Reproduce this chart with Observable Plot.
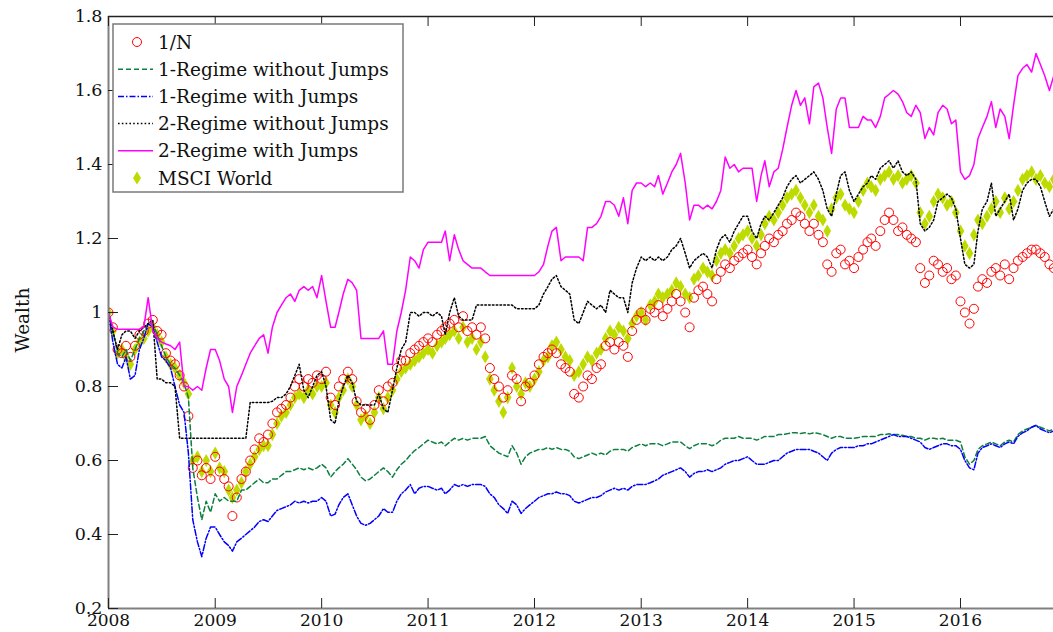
<!DOCTYPE html>
<html>
<head>
<meta charset="utf-8">
<script src="https://cdn.jsdelivr.net/npm/d3@7"></script>
<script src="https://cdn.jsdelivr.net/npm/@observablehq/plot@0.6"></script>
<style>
  html, body { margin: 0; padding: 0; background: #fff; }
  #chart { position: relative; width: 1053px; height: 632px; overflow: hidden; }
</style>
</head>
<body>
<div id="chart"></div>
<script>
// Wealth paths, sampled twice a month (1st and 16th) from Jan 2008 to mid-Nov 2016.
const equalWeight = [
  1.00,0.96,0.90,0.89,0.91,0.88,0.91,0.94,0.95,0.97,0.98,0.95,0.94,0.89,0.87,0.86,0.83,0.80,0.72,0.58,0.60,0.56,0.58,0.55, // 2008
  0.61,0.57,0.55,0.53,0.45,0.50,0.55,0.57,0.60,0.63,0.66,0.65,0.67,0.70,0.73,0.74,0.75,0.77,0.80,0.82,0.80,0.82,0.81,0.83, // 2009
  0.82,0.84,0.77,0.75,0.80,0.82,0.84,0.82,0.76,0.73,0.74,0.71,0.75,0.79,0.76,0.80,0.81,0.85,0.87,0.87,0.89,0.90,0.91,0.92, // 2010
  0.93,0.92,0.94,0.95,0.96,0.97,0.98,0.96,0.99,0.95,0.96,0.94,0.96,0.93,0.85,0.82,0.80,0.77,0.79,0.83,0.82,0.76,0.80,0.81, // 2011
  0.83,0.86,0.88,0.89,0.90,0.89,0.86,0.85,0.84,0.78,0.77,0.80,0.83,0.82,0.85,0.86,0.91,0.92,0.90,0.92,0.91,0.88,0.95,0.98, // 2012
  1.00,0.98,1.01,1.00,1.02,0.99,1.01,1.03,1.05,1.03,1.00,0.96,1.04,1.06,1.07,1.05,1.03,1.09,1.11,1.13,1.12,1.14,1.15,1.16, // 2013
  1.17,1.15,1.13,1.16,1.18,1.20,1.19,1.21,1.22,1.24,1.25,1.27,1.26,1.24,1.22,1.24,1.21,1.19,1.13,1.11,1.16,1.17,1.13,1.14, // 2014
  1.12,1.15,1.17,1.19,1.20,1.18,1.22,1.25,1.27,1.25,1.22,1.23,1.21,1.20,1.19,1.12,1.08,1.10,1.14,1.13,1.11,1.12,1.09,1.10, // 2015
  1.03,1.00,0.97,1.01,1.07,1.09,1.08,1.11,1.12,1.10,1.13,1.09,1.12,1.14,1.15,1.16,1.17,1.17,1.16,1.15,1.13,1.12            // 2016
];
const oneRegimeNoJumps = [
  1.00,0.95,0.89,0.88,0.90,0.87,0.90,0.93,0.95,0.97,0.97,0.94,0.91,0.88,0.86,0.85,0.83,0.81,0.77,0.58,0.50,0.44,0.49,0.46,
  0.51,0.49,0.50,0.49,0.49,0.49,0.52,0.52,0.53,0.54,0.55,0.54,0.54,0.55,0.55,0.56,0.57,0.57,0.575,0.58,0.575,0.58,0.575,0.58,
  0.59,0.58,0.555,0.57,0.58,0.59,0.605,0.59,0.575,0.555,0.545,0.55,0.56,0.57,0.58,0.57,0.555,0.575,0.59,0.60,0.615,0.627,0.635,0.645,
  0.655,0.65,0.645,0.65,0.64,0.65,0.66,0.655,0.66,0.655,0.66,0.66,0.66,0.665,0.64,0.63,0.62,0.615,0.61,0.64,0.62,0.59,0.61,0.62,
  0.625,0.63,0.63,0.635,0.63,0.635,0.63,0.63,0.625,0.61,0.605,0.61,0.615,0.62,0.615,0.62,0.615,0.625,0.63,0.63,0.63,0.625,0.635,0.64,
  0.645,0.64,0.645,0.645,0.645,0.64,0.645,0.65,0.65,0.65,0.64,0.632,0.64,0.645,0.645,0.645,0.64,0.645,0.655,0.66,0.66,0.66,0.665,0.66,
  0.66,0.66,0.655,0.66,0.665,0.665,0.665,0.67,0.67,0.672,0.675,0.675,0.673,0.675,0.672,0.675,0.673,0.67,0.665,0.66,0.665,0.665,0.66,0.66,
  0.66,0.662,0.665,0.665,0.665,0.665,0.67,0.67,0.672,0.67,0.67,0.668,0.665,0.665,0.66,0.66,0.655,0.66,0.66,0.658,0.66,0.655,0.655,0.655,
  0.65,0.61,0.59,0.60,0.63,0.64,0.645,0.65,0.645,0.64,0.65,0.655,0.65,0.67,0.68,0.685,0.69,0.695,0.69,0.685,0.68,0.685
];
const oneRegimeJumps = [
  1.00,0.92,0.86,0.85,0.88,0.82,0.83,0.90,0.93,0.97,0.96,0.92,0.88,0.87,0.85,0.80,0.75,0.73,0.62,0.44,0.38,0.34,0.39,0.42,
  0.42,0.40,0.38,0.37,0.355,0.38,0.39,0.40,0.41,0.42,0.435,0.44,0.435,0.45,0.465,0.47,0.475,0.48,0.49,0.485,0.49,0.485,0.49,0.49,
  0.50,0.49,0.45,0.455,0.48,0.50,0.51,0.48,0.45,0.43,0.425,0.43,0.44,0.45,0.47,0.46,0.46,0.49,0.51,0.52,0.535,0.51,0.525,0.53,
  0.53,0.525,0.52,0.525,0.51,0.52,0.535,0.53,0.535,0.53,0.535,0.535,0.535,0.53,0.51,0.50,0.48,0.47,0.457,0.49,0.48,0.457,0.47,0.48,
  0.49,0.50,0.505,0.51,0.51,0.515,0.51,0.51,0.505,0.49,0.485,0.49,0.495,0.50,0.50,0.505,0.515,0.52,0.525,0.52,0.525,0.52,0.53,0.535,
  0.535,0.535,0.54,0.545,0.55,0.56,0.565,0.57,0.575,0.58,0.57,0.555,0.565,0.57,0.57,0.575,0.57,0.575,0.58,0.59,0.595,0.60,0.60,0.605,
  0.61,0.60,0.59,0.59,0.59,0.595,0.60,0.60,0.61,0.62,0.625,0.63,0.63,0.63,0.63,0.625,0.62,0.61,0.60,0.62,0.63,0.635,0.635,0.635,
  0.635,0.64,0.64,0.645,0.645,0.65,0.655,0.66,0.665,0.67,0.665,0.665,0.665,0.66,0.655,0.65,0.635,0.63,0.635,0.64,0.645,0.645,0.64,0.64,
  0.63,0.60,0.58,0.575,0.62,0.635,0.64,0.645,0.64,0.635,0.645,0.65,0.645,0.665,0.675,0.68,0.69,0.695,0.685,0.68,0.675,0.68
];
const twoRegimeNoJumps = [
  1.00,0.95,0.90,0.94,0.95,0.95,0.93,0.95,0.96,0.97,0.98,0.82,0.82,0.81,0.81,0.80,0.66,0.66,0.66,0.66,0.66,0.66,0.66,0.66,
  0.66,0.66,0.66,0.66,0.66,0.66,0.66,0.66,0.757,0.757,0.757,0.757,0.757,0.76,0.77,0.77,0.78,0.80,0.83,0.86,0.79,0.77,0.80,0.83,
  0.84,0.80,0.71,0.70,0.76,0.80,0.83,0.81,0.76,0.75,0.75,0.75,0.75,0.78,0.74,0.73,0.79,0.85,0.90,0.92,1.00,1.00,0.99,1.00,
  1.00,0.99,1.00,0.99,0.94,1.00,1.04,0.99,0.98,0.98,0.98,1.02,1.02,1.02,1.02,1.02,1.02,1.02,1.02,1.02,1.01,1.01,1.01,1.01,
  1.01,1.02,1.05,1.07,1.09,1.10,1.07,1.06,1.05,0.98,0.97,1.00,1.03,1.02,1.01,1.02,1.00,1.06,1.05,1.04,1.04,1.00,1.08,1.12,
  1.15,1.14,1.15,1.14,1.15,1.14,1.15,1.17,1.18,1.20,1.16,1.12,1.14,1.15,1.16,1.15,1.12,1.17,1.20,1.21,1.19,1.22,1.24,1.26,
  1.26,1.22,1.20,1.24,1.26,1.25,1.27,1.29,1.31,1.34,1.36,1.37,1.35,1.36,1.37,1.38,1.36,1.33,1.28,1.26,1.32,1.37,1.38,1.33,
  1.30,1.32,1.34,1.35,1.37,1.36,1.39,1.40,1.41,1.39,1.41,1.38,1.37,1.38,1.36,1.24,1.22,1.23,1.25,1.30,1.31,1.32,1.31,1.28,
  1.20,1.13,1.12,1.13,1.22,1.28,1.30,1.35,1.26,1.28,1.30,1.32,1.25,1.28,1.33,1.35,1.36,1.36,1.34,1.30,1.26,1.28
];
const twoRegimeJumps = [
  1.00,0.96,0.955,0.955,0.955,0.955,0.955,0.955,0.96,1.04,0.95,0.93,0.92,0.915,0.91,0.90,0.92,0.80,0.80,0.79,0.80,0.79,0.85,0.90,
  0.90,0.87,0.82,0.80,0.73,0.80,0.83,0.86,0.89,0.91,0.93,0.94,0.89,0.96,1.00,1.02,1.04,1.05,1.03,1.06,1.07,1.06,1.07,1.04,
  1.10,1.03,0.96,0.96,1.00,1.05,1.09,1.08,1.06,0.93,0.93,0.93,0.93,0.93,0.95,0.86,0.86,0.95,1.00,1.06,1.15,1.14,1.12,1.17,
  1.19,1.19,1.19,1.19,1.22,1.14,1.21,1.17,1.14,1.13,1.12,1.12,1.12,1.11,1.10,1.10,1.10,1.10,1.10,1.10,1.10,1.10,1.10,1.10,
  1.10,1.11,1.13,1.18,1.22,1.23,1.14,1.15,1.15,1.15,1.15,1.14,1.23,1.23,1.24,1.26,1.30,1.30,1.29,1.26,1.31,1.24,1.33,1.35,
  1.35,1.34,1.35,1.34,1.37,1.32,1.35,1.38,1.40,1.43,1.35,1.25,1.29,1.29,1.28,1.29,1.28,1.30,1.33,1.42,1.39,1.40,1.38,1.39,
  1.39,1.39,1.30,1.37,1.41,1.34,1.38,1.39,1.44,1.50,1.56,1.60,1.56,1.58,1.51,1.61,1.62,1.58,1.50,1.43,1.55,1.58,1.58,1.50,
  1.50,1.50,1.53,1.52,1.52,1.50,1.53,1.58,1.59,1.60,1.59,1.57,1.54,1.53,1.56,1.54,1.47,1.50,1.48,1.54,1.56,1.55,1.51,1.52,
  1.38,1.36,1.37,1.40,1.47,1.50,1.53,1.57,1.50,1.55,1.53,1.47,1.56,1.64,1.66,1.67,1.65,1.70,1.67,1.64,1.60,1.64
];
const msciWorld = [
  1.00,0.95,0.89,0.90,0.88,0.86,0.90,0.92,0.93,0.95,0.96,0.94,0.92,0.88,0.86,0.85,0.83,0.81,0.78,0.60,0.61,0.57,0.60,0.57,
  0.62,0.58,0.57,0.52,0.50,0.52,0.54,0.57,0.59,0.61,0.63,0.64,0.64,0.67,0.70,0.72,0.73,0.75,0.77,0.78,0.77,0.79,0.78,0.80,
  0.80,0.81,0.75,0.73,0.77,0.79,0.82,0.80,0.75,0.71,0.72,0.70,0.73,0.77,0.74,0.77,0.79,0.82,0.84,0.85,0.86,0.87,0.88,0.89,
  0.90,0.89,0.91,0.92,0.93,0.94,0.95,0.93,0.96,0.92,0.93,0.90,0.92,0.88,0.82,0.79,0.76,0.73,0.77,0.85,0.80,0.78,0.81,0.80,
  0.82,0.84,0.87,0.88,0.91,0.92,0.90,0.88,0.87,0.83,0.84,0.86,0.88,0.87,0.89,0.90,0.93,0.95,0.94,0.96,0.95,0.93,0.97,0.99,
  1.00,0.98,1.02,1.03,1.05,1.04,1.05,1.06,1.08,1.07,1.05,1.04,1.09,1.10,1.12,1.11,1.10,1.14,1.16,1.17,1.16,1.18,1.20,1.21,
  1.22,1.20,1.18,1.21,1.24,1.26,1.25,1.27,1.29,1.31,1.32,1.33,1.31,1.29,1.27,1.29,1.26,1.25,1.22,1.28,1.31,1.32,1.29,1.28,
  1.27,1.30,1.33,1.35,1.34,1.33,1.36,1.37,1.38,1.36,1.37,1.35,1.36,1.37,1.35,1.27,1.24,1.26,1.30,1.32,1.31,1.29,1.30,1.27,
  1.22,1.18,1.16,1.21,1.25,1.24,1.26,1.28,1.30,1.27,1.31,1.28,1.30,1.33,1.36,1.37,1.38,1.36,1.37,1.35,1.34,1.36
];

const xTickYears = [2008, 2009, 2010, 2011, 2012, 2013, 2014, 2015, 2016];
const yTickValues = [0.2, 0.4, 0.6, 0.8, 1.0, 1.2, 1.4, 1.6, 1.8];
const seriesNames = ["1/N", "1-Regime without Jumps", "1-Regime with Jumps",
                     "2-Regime without Jumps", "2-Regime with Jumps", "MSCI World"];
const yTitle = "Wealth";

// Observation dates: 1st and 16th of every month.
const dates = equalWeight.map((_, i) =>
  new Date(Date.UTC(2008 + Math.floor(i / 24), Math.floor((i % 24) / 2), i % 2 ? 16 : 1)));
const rows = dates.map((date, i) => ({
  date,
  equal: equalWeight[i],
  g1: oneRegimeNoJumps[i],
  b1: oneRegimeJumps[i],
  k2: twoRegimeNoJumps[i],
  m2: twoRegimeJumps[i],
  msci: msciWorld[i]
}));

const W = 1053, H = 632;
const M = {top: 16, right: 0, bottom: 24, left: 108};
const innerW = W - M.left - M.right, innerH = H - M.top - M.bottom;
const serif = "'DejaVu Serif', 'Liberation Serif', serif";
const tickLen = 10;
const xTicks = xTickYears.map(y => new Date(Date.UTC(y, 0, 1)));

const C = {
  red: "#ff0000", green: "#0d8040", blue: "#0000ff", black: "#000000",
  magenta: "#ff00ff", msci: "#bedb00"
};
const styles = [
  {key: "g1", color: C.green, dash: "5,3"},
  {key: "b1", color: C.blue, dash: "6,2,1.5,2"},
  {key: "k2", color: C.black, dash: "1.6,2.2"},
  {key: "m2", color: C.magenta, dash: null}
];

const chart = Plot.plot({
  width: W, height: H,
  marginTop: M.top, marginRight: M.right, marginBottom: M.bottom, marginLeft: M.left,
  style: {fontFamily: serif, fontSize: "17px", background: "#fff", color: "#111", overflow: "hidden"},
  x: {type: "utc", domain: [new Date(Date.UTC(2008, 0, 1)), new Date(Date.UTC(2016, 10, 15))]},
  y: {domain: [0.2, 1.8]},
  marks: [
    Plot.dot(rows, {x: "date", y: "msci", symbol: "diamond", r: 4, fill: C.msci, stroke: "none", clip: true}),
    Plot.dot(rows, {x: "date", y: "equal", r: 4.5, stroke: C.red, fill: "none", strokeWidth: 1, clip: true}),
    ...styles.map(s => Plot.line(rows, {
      x: "date", y: s.key, stroke: s.color, strokeWidth: 1.5,
      strokeDasharray: s.dash || undefined, clip: true
    })),
    // frame: grey left/bottom spines, dark top edge
    Plot.ruleY([1.8], {stroke: "#222", strokeWidth: 1.3}),
    Plot.ruleY([0.2], {stroke: "#808080", strokeWidth: 2}),
    Plot.ruleX([xTicks[0]], {stroke: "#808080", strokeWidth: 2}),
    // inward ticks
    Plot.ruleX(xTicks, {insetTop: innerH - tickLen, stroke: "#222"}),
    Plot.ruleX(xTicks, {insetBottom: innerH - tickLen, stroke: "#222"}),
    Plot.ruleY(yTickValues, {insetRight: innerW - tickLen, stroke: "#222"}),
    Plot.axisX({ticks: xTicks, tickSize: 0, tickPadding: 5, fontSize: 17,
                tickFormat: d => String(d.getUTCFullYear()), label: null, fill: "#111"}),
    Plot.axisY({ticks: yTickValues, tickSize: 0, tickPadding: 6, fontSize: 17.5,
                tickFormat: d => String(+d.toFixed(1)), label: null, fill: "#111"})
  ]
});
document.getElementById("chart").appendChild(chart);

const svg = d3.select(chart);

// Rotated y-axis title
svg.append("text")
  .attr("transform", `translate(29,${M.top + innerH / 2 + 8}) rotate(-90)`)
  .attr("text-anchor", "middle")
  .attr("font-family", serif).attr("font-size", "18.5px").attr("fill", "#111")
  .text(yTitle);

// Legend box in the upper-left corner of the plot area
const lg = svg.append("g").attr("transform", "translate(113,24)")
  .attr("text-anchor", "start");
lg.append("rect").attr("width", 290).attr("height", 168)
  .attr("fill", "#fff").attr("stroke", "#7a7a7a").attr("stroke-width", 1.5);
const legendItems = [
  {name: seriesNames[0], kind: "circle", color: C.red},
  {name: seriesNames[1], kind: "line", color: C.green, dash: "5,3"},
  {name: seriesNames[2], kind: "line", color: C.blue, dash: "6,2,1.5,2"},
  {name: seriesNames[3], kind: "line", color: C.black, dash: "1.6,2.2"},
  {name: seriesNames[4], kind: "line", color: C.magenta, dash: null},
  {name: seriesNames[5], kind: "diamond", color: C.msci}
];
legendItems.forEach((it, k) => {
  const cy = 18 + k * 27.2;
  const g = lg.append("g").attr("transform", `translate(0,${cy})`);
  if (it.kind === "line") {
    g.append("line").attr("x1", 5).attr("x2", 40).attr("y1", 0).attr("y2", 0)
      .attr("stroke", it.color).attr("stroke-width", 1.5)
      .attr("stroke-dasharray", it.dash);
  } else if (it.kind === "circle") {
    g.append("circle").attr("cx", 24).attr("cy", 0).attr("r", 4.5)
      .attr("fill", "none").attr("stroke", it.color).attr("stroke-width", 1);
  } else {
    g.append("path").attr("d", "M24,-6.5L28,0L24,6.5L20,0Z").attr("fill", it.color);
  }
  g.append("text").attr("x", 45).attr("y", 0).attr("dy", "0.36em")
    .attr("text-anchor", "start")
    .attr("font-family", serif).attr("font-size", "18.5px").attr("fill", "#111")
    .text(it.name);
});
</script>
</body>
</html>
